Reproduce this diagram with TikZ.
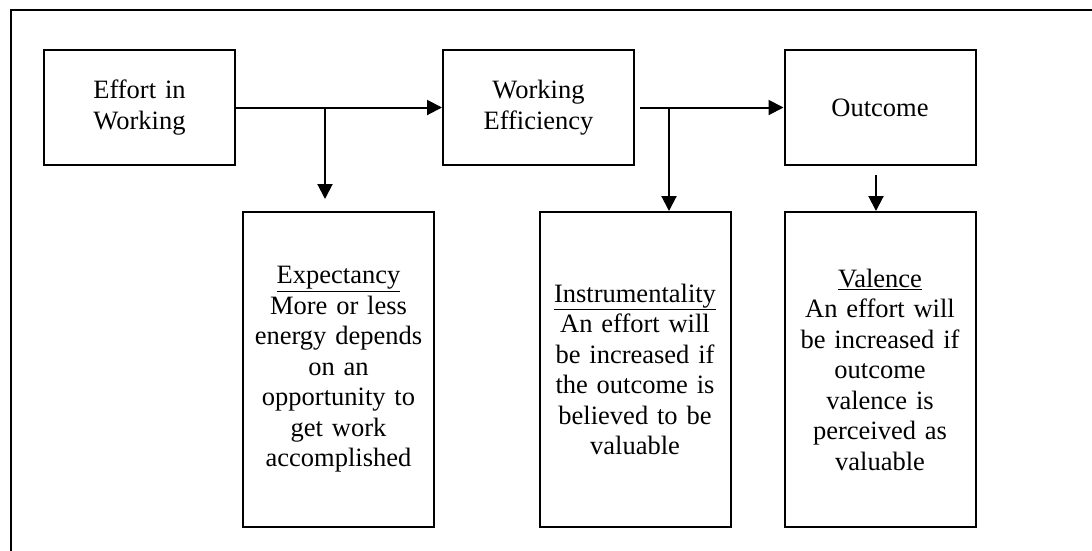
\documentclass[tikz,border=0pt]{standalone}
\usepackage{fontspec}
\setmainfont{Liberation Serif}
\usetikzlibrary{arrows.meta}
\tikzset{
  box/.style={draw, line width=2pt, inner sep=0pt, align=center, font=\fontsize{26.5}{30.5}\selectfont},
  topbox/.style={box, minimum width=191pt, minimum height=115pt, text width=185pt},
  lowbox/.style={box, minimum width=191pt, minimum height=315pt, text width=185pt},
  conn/.style={line width=2pt, -{Triangle[length=15pt,width=15pt]}},
  frame/.style={line width=2.6pt}
}
\begin{document}
\begin{tikzpicture}[x=1pt,y=-1pt]
\useasboundingbox (0,0) rectangle (1092,550);
\draw[frame] (11,551) -- (11,10) -- (1093,10);
\node[topbox] (effort) at (139.5,107.5) {Effort in\\Working};
\node[topbox] (eff) at (538.5,107.5) {Working\\Efficiency};
\node[topbox] (out) at (880,107.5) {Outcome};
\node[lowbox] (exp) at (338.5,369.5) {\underline{Expectancy}\\More or less\\energy depends\\on an\\opportunity to\\get work\\accomplished};
\node[lowbox] (ins) at (635,369.5) {\underline{Instrumentality}\\An effort will\\be increased if\\the outcome is\\believed to be\\valuable};
\node[lowbox] (val) at (880,369.5) {\underline{Valence}\\An effort will\\be increased if\\outcome\\valence is\\perceived as\\valuable};
\coordinate (j1) at (325,107.5);
\coordinate (j2) at (669,107.5);
\draw[conn] (effort.east) -- (eff.west);
\draw[conn] (j1) -- ([yshift=12pt]exp.north -| j1);
\draw[conn, shorten <=5pt] (eff.east) -- (out.west);
\draw[conn] (j2) -- (ins.north -| j2);
\draw[conn] ([yshift=-9pt]out.south -| 876,0) -- (val.north -| 876,0);
\end{tikzpicture}
\end{document}
